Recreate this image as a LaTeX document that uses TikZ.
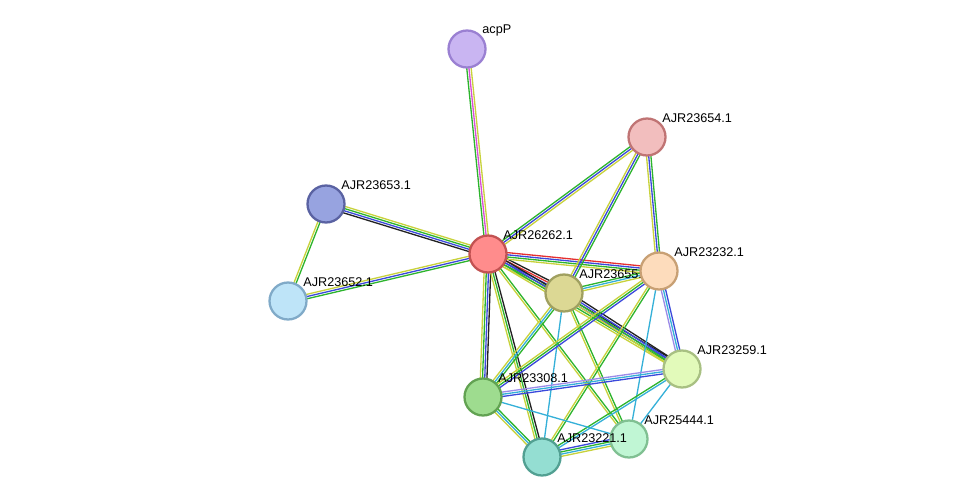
\documentclass[tikz,border=0pt]{standalone}
\usepackage{fontspec}
\setmainfont{Liberation Sans}
\usetikzlibrary{backgrounds,calc}
\definecolor{exp}{HTML}{222222}
\definecolor{txt}{HTML}{C8D23C}
\definecolor{coex}{HTML}{3B49DB}
\definecolor{nbh}{HTML}{2DB42D}
\definecolor{fus}{HTML}{E53030}
\definecolor{db}{HTML}{35B0D8}
\definecolor{lav}{HTML}{9C8BE8}
\definecolor{pk}{HTML}{D84DD8}
% node fill / border
\definecolor{acpF}{HTML}{C9B5F2}\definecolor{acpD}{HTML}{9A80D2}
\definecolor{f654}{HTML}{F2BEBE}\definecolor{d654}{HTML}{C07474}
\definecolor{f653}{HTML}{97A3E0}\definecolor{d653}{HTML}{5A62A2}
\definecolor{f262}{HTML}{FF8C8C}\definecolor{d262}{HTML}{C25252}
\definecolor{f652}{HTML}{BEE4F8}\definecolor{d652}{HTML}{80AAC8}
\definecolor{f655}{HTML}{DCD894}\definecolor{d655}{HTML}{A0A060}
\definecolor{f232}{HTML}{FDDCBC}\definecolor{d232}{HTML}{C8A074}
\definecolor{f259}{HTML}{E2FABA}\definecolor{d259}{HTML}{A8C082}
\definecolor{f308}{HTML}{9EDC8F}\definecolor{d308}{HTML}{62A252}
\definecolor{f444}{HTML}{C0F6D4}\definecolor{d444}{HTML}{80C092}
\definecolor{f221}{HTML}{94DED2}\definecolor{d221}{HTML}{52A092}
\tikzset{
  prot/.style={circle, draw, line width=1.3pt, minimum size=0.74cm, inner sep=0pt,
    label={[anchor=west, inner sep=1pt, label distance=2pt, font=\fontsize{7.2}{8}\selectfont]55:#1}},
}
% parallel stripes, one per evidence colour
\newcommand\ppi[4]{%
  \foreach \c [count=\i] in {#4} {
    \pgfmathsetmacro\o{(\i-(#3+1)/2)*1.25}
    \draw[line width=0.75pt, \c] ($(#1)!\o pt!90:(#2)$) -- ($(#2)!\o pt!-90:(#1)$);}}
\begin{document}
\begin{tikzpicture}[x=0.02cm, y=-0.02cm]
\useasboundingbox (0,0) rectangle (976,503);
\node[prot=acpP, fill=acpF, draw=acpD] (acp) at (467,49) {};
\node[prot=AJR23654.1, fill=f654, draw=d654] (n654) at (647,137) {};
\node[prot=AJR23653.1, fill=f653, draw=d653] (n653) at (326,204) {};
\node[prot=AJR26262.1, fill=f262, draw=d262] (n262) at (488,254) {};
\node[prot=AJR23652.1, fill=f652, draw=d652] (n652) at (288,301) {};
\node[prot=AJR23655.1, fill=f655, draw=d655] (n655) at (564,293) {};
\node[prot=AJR23232.1, fill=f232, draw=d232] (n232) at (659,271) {};
\node[prot=AJR23259.1, fill=f259, draw=d259] (n259) at (682,369) {};
\node[prot=AJR23308.1, fill=f308, draw=d308] (n308) at (483,397) {};
\node[prot=AJR25444.1, fill=f444, draw=d444] (n444) at (629,439) {};
\node[prot=AJR23221.1, fill=f221, draw=d221] (n221) at (542,457) {};

\begin{pgfonlayer}{background}
\ppi{n262}{acp}{3}{txt,pk,nbh}
\ppi{n262}{n654}{3}{txt,coex,nbh}
\ppi{n262}{n653}{4}{txt,nbh,coex,exp}
\ppi{n262}{n652}{3}{txt,coex,nbh}
\ppi{n653}{n652}{2}{txt,nbh}
\ppi{n262}{n655}{5}{txt,nbh,coex,fus,exp}
\ppi{n262}{n232}{4}{txt,nbh,coex,fus}
\ppi{n262}{n259}{4}{txt,nbh,coex,exp}
\ppi{n262}{n308}{4}{txt,nbh,coex,exp}
\ppi{n262}{n221}{3}{txt,nbh,exp}
\ppi{n262}{n444}{2}{txt,nbh}
\ppi{n654}{n655}{3}{txt,coex,nbh}
\ppi{n654}{n232}{3}{txt,coex,nbh}
\ppi{n655}{n232}{3}{txt,db,nbh}
\ppi{n655}{n259}{4}{txt,nbh,coex,exp}
\ppi{n655}{n308}{3}{txt,db,nbh}
\ppi{n655}{n221}{1}{db}
\ppi{n655}{n444}{2}{txt,nbh}
\ppi{n232}{n308}{3}{txt,nbh,coex}
\ppi{n232}{n259}{3}{lav,db,coex}
\ppi{n232}{n221}{2}{txt,nbh}
\ppi{n232}{n444}{1}{db}
\ppi{n259}{n308}{3}{lav,db,coex}
\ppi{n259}{n221}{2}{nbh,db}
\ppi{n259}{n444}{1}{db}
\ppi{n308}{n221}{3}{txt,db,nbh}
\ppi{n308}{n444}{1}{db}
\ppi{n221}{n444}{4}{txt,db,nbh,coex}
\end{pgfonlayer}
\end{tikzpicture}
\end{document}
